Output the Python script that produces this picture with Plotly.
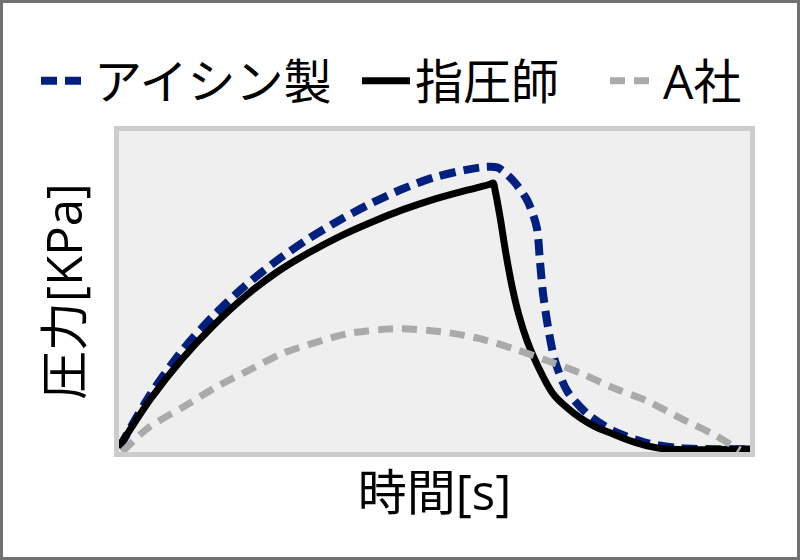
import plotly.graph_objects as go

# ---- data (normalized time / pressure) ----
t_aisin = [0, 5, 10, 15, 20, 25, 30, 35, 40, 45, 50, 55, 58, 60,
           62.4, 64.7, 66.2, 66.7, 67.2, 68.0, 69.1, 71.0, 74.2, 78.3, 83.7, 88.9, 100]
p_aisin = [1.2, 18.0, 31.6, 42.5, 51.8, 59.6, 66.4, 72.3, 77.5, 82.0, 85.6, 87.9, 88.8, 88.6,
           84.7, 78.4, 70.0, 59.7, 49.4, 38.8, 28.4, 19.1, 11.9, 6.6, 2.8, 1.2, 0.9]

t_shiatsu = [0, 5, 10, 15, 20, 25, 30, 35, 40, 45, 50, 55, 58.8, 59.3,
             59.6, 60.4, 61.3, 62.3, 63.4, 64.7, 66.2, 68.8, 71.0, 73.1, 75.5, 78.3, 81.0, 83.7, 86.8, 100]
p_shiatsu = [1.5, 16.5, 29.0, 39.5, 48.5, 56.0, 62.0, 67.2, 71.6, 75.5, 78.8, 81.5, 83.4, 83.8,
             81.5, 73.1, 62.0, 51.5, 42.5, 34.5, 27.5, 18.1, 13.8, 10.6, 7.8, 5.6, 3.5, 1.9, 0.9, 0.9]

t_a = [0.5, 4.6, 10.0, 15.2, 20.4, 25.8, 31.1, 36.3, 44.2, 52.1, 57.2, 62.8, 67.8,
       73.1, 78.3, 83.7, 88.9, 94.1, 98.4]
p_a = [0, 7.5, 13.8, 20.0, 25.3, 30.6, 34.1, 36.9, 38.4, 37.2, 35.3, 32.0, 28.5,
       24.6, 20.0, 15.9, 10.6, 5.6, 0.6]

names = ["アイシン製", "指圧師", "A社"]

W, H = 800, 560
L, R, T, B = 119, 50, 131, 108
PW, PH = W - L - R, H - T - B

FONT = "Open Sans, Noto Sans CJK JP, sans-serif"

fig = go.Figure()
fig.add_trace(go.Scatter(x=t_aisin, y=p_aisin, name=names[0], mode="lines", legend="legend",
                         line=dict(color="#00207f", width=8, dash="16px,8px", shape="spline", smoothing=0.8)))
fig.add_trace(go.Scatter(x=t_shiatsu, y=p_shiatsu, name=names[1], mode="lines", legend="legend2",
                         line=dict(color="#000000", width=7, shape="spline", smoothing=1.0)))
fig.add_trace(go.Scatter(x=t_a, y=p_a, name=names[2], mode="lines", legend="legend3",
                         line=dict(color="#aaaaaa", width=7, dash="15px,9px", shape="spline", smoothing=0.8)))

# outer image frame
fig.add_shape(type="rect", xref="paper", yref="paper",
              x0=(1.5 - L) / PW, x1=(W - 1.5 - L) / PW,
              y0=-(H - 1.5 - T - PH) / PH, y1=1 + (T - 1.5) / PH,
              line=dict(color="#707070", width=3), fillcolor="rgba(0,0,0,0)", layer="below")


def leg(px):
    return dict(orientation="h", x=(px - L) / PW, xanchor="left",
                y=1 + (T - 81) / PH, yanchor="middle",
                font=dict(size=48), itemwidth=48, bgcolor="rgba(0,0,0,0)")


fig.update_layout(
    width=W, height=H,
    margin=dict(l=L, r=R, t=T, b=B, autoexpand=False),
    paper_bgcolor="white", plot_bgcolor="#efefef",
    font=dict(family=FONT, size=48, color="#000000"),
    showlegend=True,
    legend=leg(36), legend2=leg(357), legend3=leg(605),
    xaxis=dict(range=[0, 100], showticklabels=False, ticks="", showgrid=False, zeroline=False,
               showline=True, mirror=True, linewidth=5, linecolor="#cccccc",
               title=dict(text="時間[s]", standoff=21, font=dict(size=49))),
    yaxis=dict(range=[0, 100], showticklabels=False, ticks="", showgrid=False, zeroline=False,
               showline=True, mirror=True, linewidth=5, linecolor="#cccccc",
               title=dict(text="圧力[KPa]", standoff=17, font=dict(size=49))),
)

fig.write_html("out.html", config={"displayModeBar": False},
               post_script="document.body.style.margin='0';document.body.style.overflow='hidden';")
